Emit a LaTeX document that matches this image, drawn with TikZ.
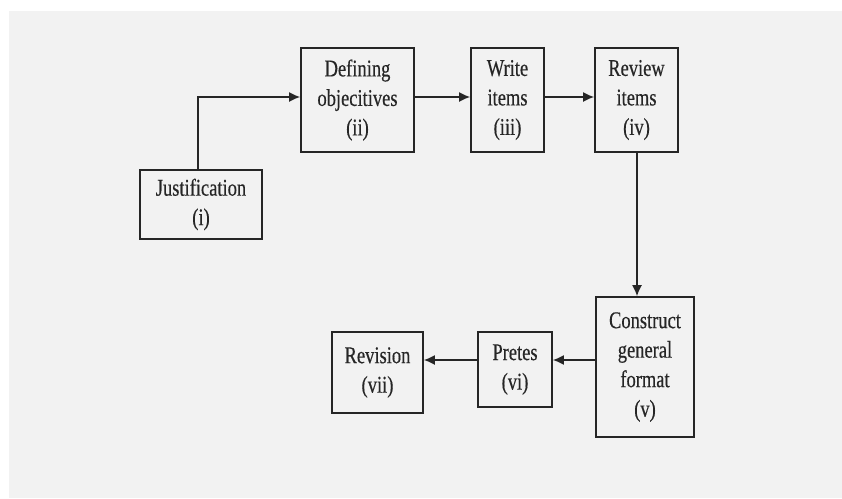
\documentclass[tikz,border=0pt]{standalone}
\usepackage{fontspec}
\setmainfont{Liberation Serif}[FakeStretch=0.77,FakeBold=0.4]
\usetikzlibrary{arrows.meta}
\definecolor{bg}{HTML}{F2F2F2}
\definecolor{ink}{HTML}{262626}
\begin{document}
\begin{tikzpicture}[x=1pt,y=-1pt,
  stepbox/.style={draw=ink,line width=1.6pt,fill=bg,inner sep=0pt,align=center,
    text=ink,font=\fontsize{24}{29.5}\selectfont},
  flow/.style={draw=ink,line width=1.6pt,-{Latex[length=11pt,width=10pt]}}]
\useasboundingbox (0,0) rectangle (842,498);
\fill[white] (0,0) rectangle (842,498);
\fill[bg] (9,11) rectangle (842,498);
\node[stepbox,minimum width=122pt,minimum height=69pt] (j) at (201,204.5) {Justification\\(i)};
\node[stepbox,minimum width=113pt,minimum height=104pt] (d) at (357.5,100) {Defining\\objecitives\\(ii)};
\node[stepbox,minimum width=73pt,minimum height=104pt] (w) at (507.5,100) {Write\\items\\(iii)};
\node[stepbox,minimum width=83pt,minimum height=104pt] (r) at (636.5,100) {Review\\items\\(iv)};
\node[stepbox,minimum width=98pt,minimum height=140pt] (c) at (645,367) {Construct\\general\\format\\(v)};
\node[stepbox,minimum width=74pt,minimum height=75pt] (p) at (515,369.5) {Pretes\\(vi)};
\node[stepbox,minimum width=91pt,minimum height=81pt] (v) at (377.5,372.5) {Revision\\(vii)};
\coordinate (jtop) at (198,170);
\draw[flow] (jtop) |- (d.west |- 0,97);
\draw[flow] (d.east |- 0,97) -- (w.west |- 0,97);
\draw[flow] (w.east |- 0,97) -- (r.west |- 0,97);
\draw[flow] (r.south -| 637,0) -- (c.north -| 637,0);
\draw[flow] (c.west |- 0,360) -- (p.east |- 0,360);
\draw[flow] (p.west |- 0,360) -- (v.east |- 0,360);
\end{tikzpicture}
\end{document}
